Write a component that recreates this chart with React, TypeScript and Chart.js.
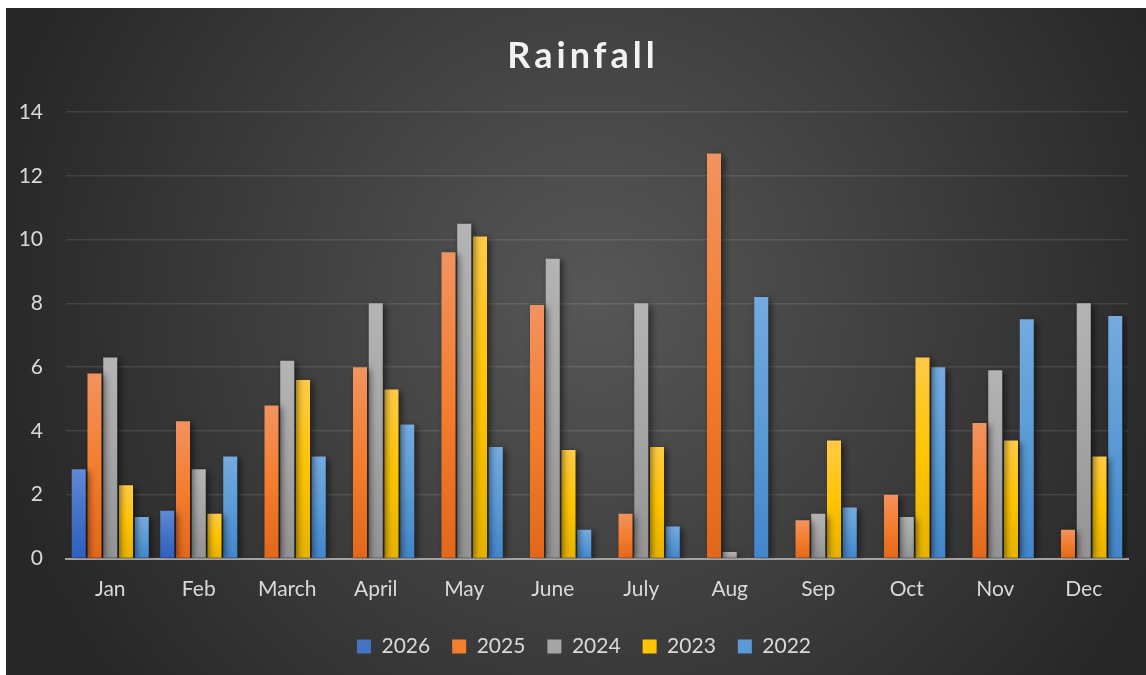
import React, { useEffect, useRef } from "react";
import { Chart, registerables } from "chart.js";

Chart.register(...registerables);

const categories = ["Jan", "Feb", "March", "April", "May", "June", "July", "Aug", "Sep", "Oct", "Nov", "Dec"];
const seriesNames = ["2026", "2025", "2024", "2023", "2022"];
const values2026 = [2.8, 1.5, null, null, null, null, null, null, null, null, null, null];
const values2025 = [5.8, 4.3, 4.8, 6.0, 9.6, 7.95, 1.4, 12.7, 1.2, 2.0, 4.25, 0.9];
const values2024 = [6.3, 2.8, 6.2, 8.0, 10.5, 9.4, 8.0, 0.2, 1.4, 1.3, 5.9, 8.0];
const values2023 = [2.3, 1.4, 5.6, 5.3, 10.1, 3.4, 3.5, null, 3.7, 6.3, 3.7, 3.2];
const values2022 = [1.3, 3.2, 3.2, 4.2, 3.5, 0.9, 1.0, 8.2, 1.6, 6.0, 7.5, 7.6];
const yTicks = [0, 2, 4, 6, 8, 10, 12, 14];

// [top, middle, bottom] colours of the vertical gradient
const palettes: string[][] = [
  ["#6189d6", "#4472c4", "#2f5fc0"],
  ["#f2935f", "#f47d2e", "#e2671a"],
  ["#b4b4b4", "#a5a5a5", "#939393"],
  ["#ffca45", "#ffc400", "#e6b200"],
  ["#74aae0", "#5b9bd5", "#4285cb"],
];

export default function App() {
  const canvasRef = useRef<HTMLCanvasElement | null>(null);

  useEffect(() => {
    document.body.style.margin = "0";
    document.body.style.overflow = "hidden";
    const canvas = canvasRef.current;
    if (!canvas) return;

    const allValues = [values2026, values2025, values2024, values2023, values2022];

    const makeBg = (pal: string[]) => (ctx: any) => {
      const chart = ctx.chart;
      if (!chart.chartArea || ctx.type !== "data" || ctx.raw == null) return pal[1];
      const y = chart.scales.y;
      const top = y.getPixelForValue(ctx.raw);
      const base = y.getPixelForValue(0);
      if (!isFinite(top) || !isFinite(base) || base - top < 1) return pal[1];
      const g = chart.ctx.createLinearGradient(0, top, 0, base);
      g.addColorStop(0, pal[0]);
      g.addColorStop(0.5, pal[1]);
      g.addColorStop(1, pal[2]);
      return g;
    };

    const bgPlugin = {
      id: "bgPlugin",
      beforeDraw(chart: any) {
        const { ctx, width, height } = chart;
        ctx.save();
        const g = ctx.createRadialGradient(590, 290, 0, 590, 290, 620);
        g.addColorStop(0, "#575757");
        g.addColorStop(1, "#272727");
        ctx.fillStyle = g;
        ctx.fillRect(0, 0, width, height);
        ctx.restore();
      },
    };

    const titlePlugin = {
      id: "titlePlugin",
      afterDraw(chart: any) {
        const ctx = chart.ctx;
        ctx.save();
        ctx.font = "bold 36px Lato";
        (ctx as any).letterSpacing = "4px";
        ctx.fillStyle = "#f2f2f2";
        ctx.textAlign = "center";
        ctx.textBaseline = "middle";
        ctx.fillText("Rainfall", 577, 48);
        ctx.restore();
      },
    };

    const legendShiftPlugin = {
      id: "legendShift",
      afterLayout(chart: any) {
        if (chart.legend) {
          chart.legend.left += 34;
          chart.legend.top += 2;
          chart.legend.bottom += 2;
        }
      },
    };

    const shadowPlugin = {
      id: "shadowPlugin",
      beforeDatasetsDraw(chart: any) {
        const ctx = chart.ctx;
        ctx.save();
        ctx.shadowColor = "rgba(0,0,0,0.55)";
        ctx.shadowBlur = 7;
        ctx.shadowOffsetX = 3;
        ctx.shadowOffsetY = 2;
      },
      afterDatasetsDraw(chart: any) {
        chart.ctx.restore();
      },
    };

    const chart = new Chart(canvas, {
      type: "bar",
      data: {
        labels: categories,
        datasets: seriesNames.map((name, i) => ({
          label: name,
          data: allValues[i] as any,
          backgroundColor: makeBg(palettes[i]) as any,
          borderWidth: 0,
          categoryPercentage: 0.89,
          barPercentage: 0.89,
        })),
      },
      options: {
        animation: false,
        responsive: false,
        maintainAspectRatio: false,
        layout: { padding: { left: 0, right: 18, top: 104, bottom: 10 } },
        font: { family: "Lato", size: 21 } as any,
        plugins: {
          title: { display: false },
          tooltip: { enabled: false },
          legend: {
            display: true,
            position: "bottom",
            labels: {
              color: "#d9d9d9",
              font: { family: "Lato", size: 21 },
              boxWidth: 14,
              boxHeight: 14,
              padding: 22,
              generateLabels(ch: any) {
                return ch.data.datasets.map((ds: any, i: number) => ({
                  text: ds.label,
                  fillStyle: palettes[i][1],
                  strokeStyle: palettes[i][1],
                  lineWidth: 0,
                  hidden: false,
                  datasetIndex: i,
                  fontColor: "#d9d9d9",
                }));
              },
            },
          },
        },
        scales: {
          x: {
            z: 1,
            grid: { display: false, drawTicks: false },
            border: { display: true, color: "#a3a3a3", width: 2 },
            ticks: { color: "#d9d9d9", font: { family: "Lato", size: 21 }, padding: 18 },
            afterFit(scale: any) {
              scale.height = 53.5;
            },
          },
          y: {
            min: 0,
            max: 14,
            afterBuildTicks(scale: any) {
              scale.ticks = yTicks.map((v) => ({ value: v }));
            },
            grid: {
              drawTicks: false,
              lineWidth: 1.5,
              color: (c: any) => (c.tick && c.tick.value === 0 ? "rgba(0,0,0,0)" : "rgba(255,255,255,0.1)"),
            },
            border: { display: false },
            ticks: { color: "#d9d9d9", font: { family: "Lato", size: 21 }, padding: 23 },
            afterFit(scale: any) {
              scale.width = 60;
            },
          },
        } as any,
      },
      plugins: [bgPlugin, shadowPlugin, titlePlugin, legendShiftPlugin],
    });

    return () => chart.destroy();
  }, []);

  return (
    <div style={{ position: "absolute", left: 6, top: 8, width: 1140, height: 667 }}>
      <canvas ref={canvasRef} width={1140} height={667} style={{ width: 1140, height: 667, display: "block" }} />
    </div>
  );
}
